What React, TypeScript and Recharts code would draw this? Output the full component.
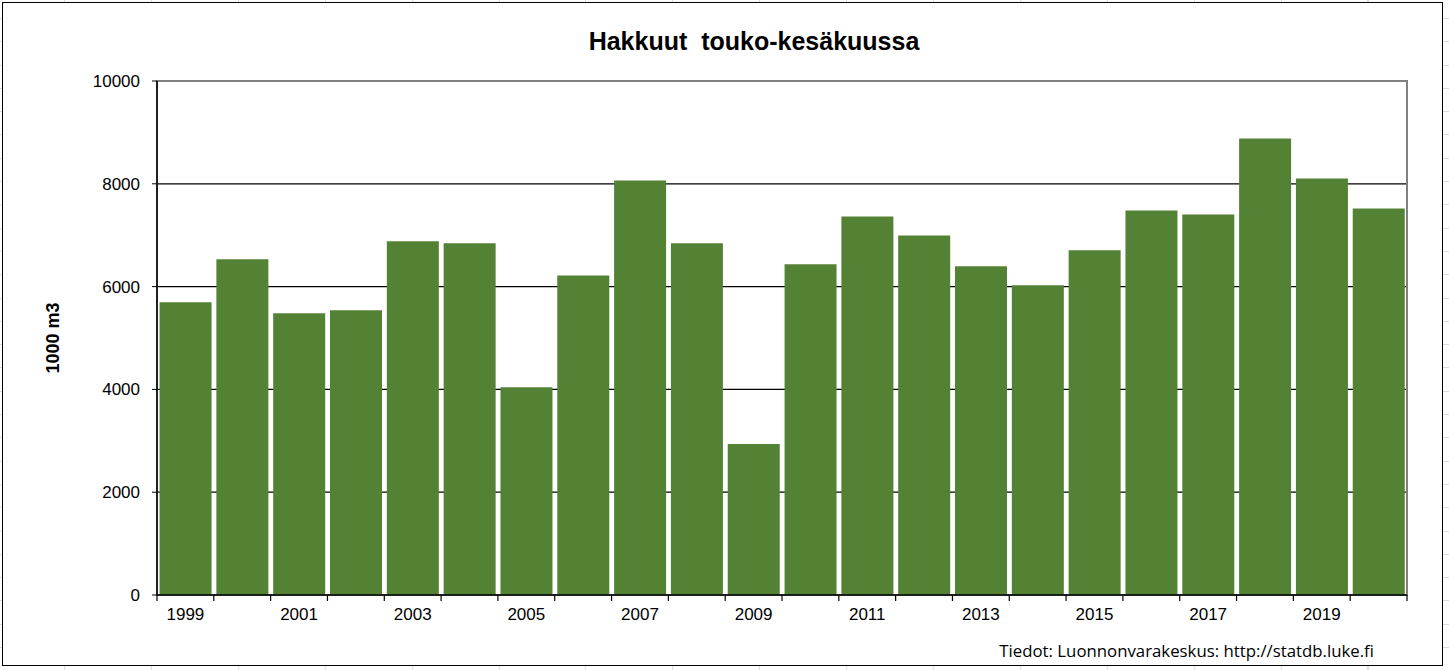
import { Bar, BarChart, CartesianGrid, Label, ReferenceArea, XAxis, YAxis } from 'recharts';

const years = [
  '1999', '2000', '2001', '2002', '2003', '2004', '2005', '2006', '2007', '2008', '2009',
  '2010', '2011', '2012', '2013', '2014', '2015', '2016', '2017', '2018', '2019', '2020',
];
const harvest = [
  5695, 6530, 5481, 5540, 6880, 6842, 4044, 6218, 8064, 6842, 2937,
  6433, 7364, 6995, 6394, 6025, 6705, 7482, 7404, 8880, 8103, 7521,
];
const yTicks = [0, 2000, 4000, 6000, 8000, 10000];
const gridValues = [2000, 4000, 6000, 8000];

const W = 1449;
const H = 670;
const PLOT_LEFT = 157;
const PLOT_RIGHT = 1407;
const PLOT_TOP = 81;
const PLOT_BOTTOM = 595;
const X_AXIS_H = 40;
const BAND = (PLOT_RIGHT - PLOT_LEFT) / years.length;

const FONT = '"Liberation Sans", Arial, sans-serif';

const data = years.map((year, i) => ({ year, value: harvest[i] }));

const YearTick = (props: any) => {
  const { x, y, index, payload } = props;
  const isLast = index === years.length - 1;
  return (
    <g>
      <line x1={x - BAND / 2} x2={x - BAND / 2} y1={y} y2={y + 6} stroke="#000" strokeWidth={1.2} />
      {isLast && <line x1={x + BAND / 2} x2={x + BAND / 2} y1={y} y2={y + 6} stroke="#000" strokeWidth={1.2} />}
      {index % 2 === 0 && (
        <text x={x} y={y + 13} dy="0.71em" textAnchor="middle" fill="#000" fontSize={17} fontFamily={FONT}>
          {payload.value}
        </text>
      )}
    </g>
  );
};

const App = () => {
  return (
    <div
      style={{
        position: 'absolute',
        left: 0,
        top: 0,
        width: W,
        height: H,
        background:
          'repeating-linear-gradient(90deg, transparent 0 64px, #dcdcdc 64px 65px, transparent 65px 86.9px), repeating-linear-gradient(0deg, transparent 0 22px, #dcdcdc 22px 23px, transparent 23px 23.3px), #fff',
      }}
    >
      <div
        style={{
          position: 'absolute',
          left: 2,
          top: 2,
          width: 1439,
          height: 662,
          border: '1.5px solid #000',
          background: '#fff',
        }}
      />
      <div
        style={{
          position: 'absolute',
          left: 0,
          width: 1508,
          top: 27,
          textAlign: 'center',
          fontFamily: FONT,
          fontWeight: 700,
          fontSize: 25,
          whiteSpace: 'pre',
          color: '#000',
        }}
      >
        {'Hakkuut  touko-kesäkuussa'}
      </div>
      <div style={{ position: 'absolute', left: 0, top: 0 }}>
        <BarChart
          width={W}
          height={H}
          data={data}
          margin={{ top: PLOT_TOP, right: W - PLOT_RIGHT, bottom: H - PLOT_BOTTOM - X_AXIS_H, left: 0 }}
          barCategoryGap="4.5%"
        >
          <CartesianGrid vertical={false} horizontalValues={gridValues} stroke="#000" strokeWidth={1.2} />
          <ReferenceArea y1={0} y2={10000} stroke="#808080" strokeWidth={2} fill="none" />
          <XAxis
            dataKey="year"
            interval={0}
            height={X_AXIS_H}
            tickSize={0}
            tickMargin={0}
            tick={<YearTick />}
            axisLine={{ stroke: '#000', strokeWidth: 1.5 }}
          />
          <YAxis
            width={PLOT_LEFT}
            domain={[0, 10000]}
            ticks={yTicks}
            interval={0}
            tickSize={5}
            tickMargin={12}
            tick={{ fill: '#000', fontSize: 17, fontFamily: FONT }}
            tickLine={{ stroke: '#000' }}
            axisLine={{ stroke: '#000', strokeWidth: 1.5 }}
          >
            <Label
              value="1000 m3"
              angle={-90}
              position="center"
              dx={-26}
              style={{ fontWeight: 700, fontSize: 18, fontFamily: FONT, fill: '#000' }}
            />
          </YAxis>
          <Bar dataKey="value" fill="#548235" isAnimationActive={false} />
        </BarChart>
      </div>
      <div
        style={{
          position: 'absolute',
          right: W - 1374,
          top: 639,
          fontFamily: '"Open Sans", "Noto Sans", sans-serif',
          fontSize: 16.8,
          color: '#000',
          whiteSpace: 'nowrap',
        }}
      >
        Tiedot: Luonnonvarakeskus: http://statdb.luke.fi
      </div>
    </div>
  );
};

export default App;
